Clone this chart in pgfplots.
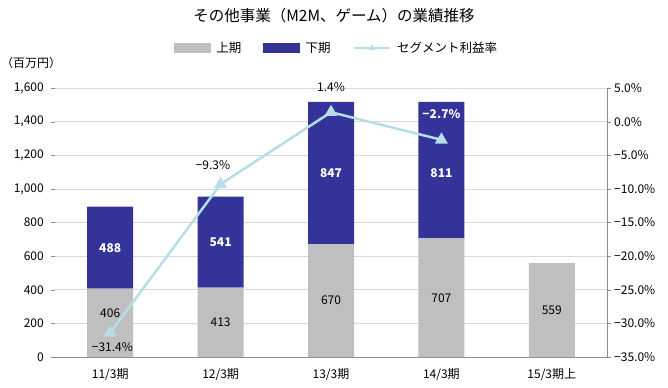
\documentclass[border=0pt]{standalone}
\usepackage{fontspec}
\setmainfont{Noto Sans CJK JP}
\usepackage{pgfplots}
\pgfplotsset{compat=1.18}
\definecolor{c1}{HTML}{BFBFBF}
\definecolor{c2}{HTML}{333399}
\definecolor{lc}{HTML}{B7DDE8}
\definecolor{gr}{HTML}{D9D9D9}
\definecolor{ax}{HTML}{8C8C8C}
\begin{document}
\fontsize{12bp}{14bp}\selectfont
\begin{tikzpicture}
\useasboundingbox (0,0) rectangle (668bp,388bp);
\node at (334bp,372bp) {\fontsize{15.5bp}{17bp}\selectfont その他事業（M2M、ゲーム）の業績推移};
\node at (31bp,325bp) {（百万円）};
\begin{axis}[
  at={(55bp,31bp)}, anchor=south west, scale only axis,
  width=552bp, height=269bp,
  xmin=-0.5, xmax=4.5, ymin=0, ymax=1600,
  ybar stacked, bar width=46bp,
  axis x line*=bottom, axis y line*=left,
  y axis line style={draw=none},
  x axis line style={draw=ax, line width=0.8bp},
  xtick={0,1,2,3,4},
  xticklabels={11/3期,12/3期,13/3期,14/3期,15/3期上},
  major x tick style={draw=none},
  extra x ticks={-0.5,0.5,1.5,2.5,3.5,4.5},
  extra x tick labels={},
  extra x tick style={tick style={draw=ax}, major tick length=4bp, tick align=outside, grid=none},
  ytick={0,200,...,1600},
  ytick style={draw=ax}, major tick length=4bp, tick align=outside,
  ymajorgrids, grid style={gr, line width=0.7bp},
  /pgf/number format/assume math mode=true,
  /pgf/number format/1000 sep={,},
  yticklabel style={font=\fontsize{12bp}{14bp}\selectfont, xshift=-3bp},
  xticklabel style={font=\fontsize{12bp}{14bp}\selectfont, yshift=-3bp},
  legend style={at={(0.51,1.149)}, anchor=center, draw=none, fill=none,
    legend columns=3, font=\fontsize{12.5bp}{14bp}\selectfont,
    /tikz/every odd column/.append style={column sep=4bp},
    /tikz/every even column/.append style={column sep=20bp}},
  clip=false,
]
\addplot[fill=c1, draw=none, forget plot] coordinates {(0,406) (1,413) (2,670) (3,707) (4,559)};
\addplot[fill=c2, draw=none, forget plot] coordinates {(0,488) (1,541) (2,847) (3,811) (4,0)};
\addlegendimage{legend image code/.code={\fill[c1] (0bp,-4.5bp) rectangle (36bp,4.5bp);}}
\addlegendentry{上期}
\addlegendimage{legend image code/.code={\fill[c2] (0bp,-4.5bp) rectangle (36bp,4.5bp);}}
\addlegendentry{下期}
\addlegendimage{legend image code/.code={\draw[lc, line width=2.5bp] (0bp,0bp) -- (36bp,0bp); \fill[lc] (18bp,3bp) -- (15bp,-2bp) -- (21bp,-2bp) -- cycle;}}
\addlegendentry{セグメント利益率}
\end{axis}
\begin{axis}[
  at={(55bp,31bp)}, anchor=south west, scale only axis,
  width=552bp, height=269bp,
  xmin=-0.5, xmax=4.5, ymin=-35, ymax=5,
  axis x line=none, axis y line*=right,
  y axis line style={draw=ax, line width=0.8bp},
  ytick={-35,-30,...,5},
  yticklabels={−35.0\%,−30.0\%,−25.0\%,−20.0\%,−15.0\%,−10.0\%,−5.0\%,0.0\%,5.0\%},
  ytick style={draw=ax}, major tick length=4bp, tick align=outside,
  yticklabel style={font=\fontsize{12bp}{14bp}\selectfont, xshift=-1bp},
  clip=false,
]
\addplot[lc, line width=2.5bp, mark=triangle*, mark size=5bp, mark options={fill=lc, draw=lc}] coordinates {(0,-31.4) (1,-9.3) (2,1.4) (3,-2.7)};
% bar value labels (positions converted from the left axis scale)
\node at (axis cs:0,-28.45) {406};
\node at (axis cs:1,-29.9) {413};
\node at (axis cs:2,-26.6) {670};
\node at (axis cs:3,-26.2) {707};
\node at (axis cs:4,-28.0) {559};
\node[text=white, font=\fontsize{12bp}{14bp}\selectfont\bfseries] at (axis cs:0,-18.75) {488};
\node[text=white, font=\fontsize{12bp}{14bp}\selectfont\bfseries] at (axis cs:1,-17.9) {541};
\node[text=white, font=\fontsize{12bp}{14bp}\selectfont\bfseries] at (axis cs:2,-7.7) {847};
\node[text=white, font=\fontsize{12bp}{14bp}\selectfont\bfseries] at (axis cs:3,-7.7) {811};
\node at (axis cs:0.02,-33.6) {−31.4\%};
\node at (axis cs:0.93,-6.5) {−9.3\%};
\node at (axis cs:2,5.1) {1.4\%};
\node[text=white, font=\fontsize{12bp}{14bp}\selectfont\bfseries] at (axis cs:3,1.1) {−2.7\%};
\end{axis}
\end{tikzpicture}
\end{document}
